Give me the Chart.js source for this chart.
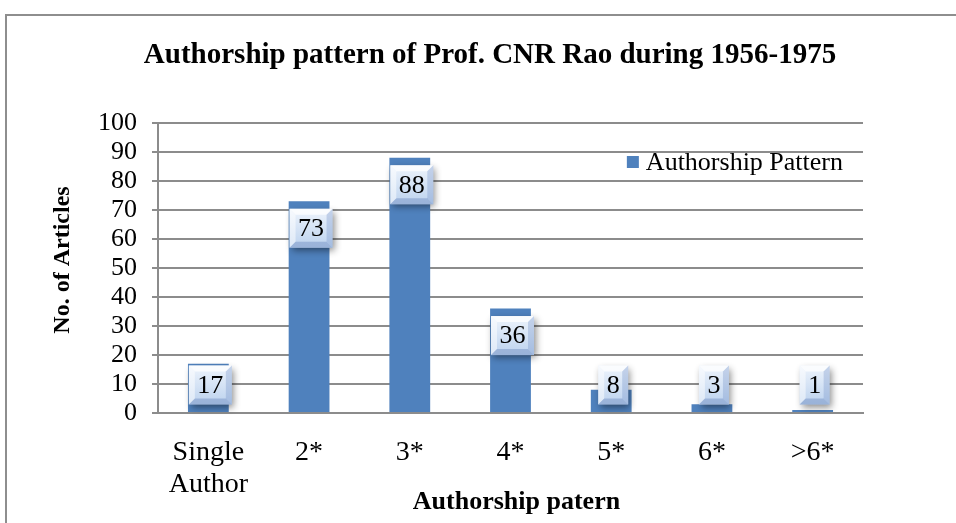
<!DOCTYPE html>
<html>
<head>
<meta charset="utf-8">
<script src="https://cdn.jsdelivr.net/npm/chart.js@4/dist/chart.umd.min.js"></script>
<style>
  body { margin: 0; background: #fff; }
  #chart { display: block; }
</style>
</head>
<body>
<canvas id="chart" width="956" height="523"></canvas>
<script>
// Authorship pattern data
const categories = [["Single", "Author"], "2*", "3*", "4*", "5*", "6*", ">6*"];
const articleCounts = [17, 73, 88, 36, 8, 3, 1];
const seriesLabel = "Authorship Pattern";
const yMin = 0;
const yMax = 100;
const yStep = 10;

const chartTitle = "Authorship pattern of Prof. CNR Rao during 1956-1975";
const xTitle = "Authorship patern";
const yTitle = "No. of Articles";

const serif = "'Liberation Serif', 'Times New Roman', serif";
const gridGray = "#8c8c8c";
const barBlue = "#4f81bd";

// Outer frame of the chart object (runs off the right and bottom edge)
const framePlugin = {
  id: "frame",
  beforeDraw(chart) {
    const ctx = chart.ctx;
    ctx.save();
    ctx.fillStyle = "#fff";
    ctx.fillRect(0, 0, chart.width, chart.height);
    ctx.strokeStyle = "#8e8e8e";
    ctx.lineWidth = 2;
    ctx.strokeRect(6, 15, chart.width + 20, chart.height + 20);
    ctx.restore();
  }
};

// Chart title and axis titles, placed like the original Office chart
const captionPlugin = {
  id: "captions",
  afterDraw(chart) {
    const ctx = chart.ctx;
    const area = chart.chartArea;
    ctx.save();
    ctx.fillStyle = "#000";
    ctx.textAlign = "center";
    ctx.textBaseline = "middle";

    ctx.font = "bold 29px " + serif;
    ctx.fillText(chartTitle, 490, 56);

    ctx.font = "bold 26px " + serif;
    ctx.fillText(xTitle, (area.left + area.right) / 2 + 6, 502);

    ctx.font = "bold 24px " + serif;
    ctx.translate(63, (area.top + area.bottom) / 2 - 8);
    ctx.rotate(-Math.PI / 2);
    ctx.fillText(yTitle, 0, 0);
    ctx.restore();
  }
};

// Bevelled value boxes, placed near the top of each bar and kept above the axis
const valueBoxPlugin = {
  id: "valueBoxes",
  afterDatasetsDraw(chart) {
    const ctx = chart.ctx;
    const meta = chart.getDatasetMeta(0);
    const bottom = chart.chartArea.bottom;
    ctx.save();
    ctx.font = "26px " + serif;
    meta.data.forEach((bar, i) => {
      const text = String(chart.data.datasets[0].data[i]);
      const w = ctx.measureText(text).width + 17;
      const h = 39;
      const cx = bar.x + 2;
      const cy = Math.min(bar.y + 27, bottom - 28);
      const x0 = cx - w / 2, y0 = cy - h / 2;

      // shadow + body
      ctx.save();
      ctx.shadowColor = "rgba(0,0,0,0.45)";
      ctx.shadowBlur = 7;
      ctx.shadowOffsetX = 2;
      ctx.shadowOffsetY = 3;
      const g = ctx.createLinearGradient(0, y0, 0, y0 + h);
      g.addColorStop(0, "#eef4fc");
      g.addColorStop(1, "#bcd2ee");
      ctx.fillStyle = g;
      ctx.fillRect(x0, y0, w, h);
      ctx.restore();

      // bevel faces
      const b = 6;
      const face = (pts, color) => {
        ctx.beginPath();
        ctx.moveTo(pts[0][0], pts[0][1]);
        pts.slice(1).forEach(p => ctx.lineTo(p[0], p[1]));
        ctx.closePath();
        ctx.fillStyle = color;
        ctx.fill();
      };
      face([[x0, y0], [x0 + w, y0], [x0 + w - b, y0 + b], [x0 + b, y0 + b]], "rgba(255,255,255,0.75)");
      face([[x0, y0], [x0 + b, y0 + b], [x0 + b, y0 + h - b], [x0, y0 + h]], "rgba(255,255,255,0.5)");
      face([[x0 + w, y0], [x0 + w, y0 + h], [x0 + w - b, y0 + h - b], [x0 + w - b, y0 + b]], "rgba(120,150,200,0.35)");
      face([[x0, y0 + h], [x0 + b, y0 + h - b], [x0 + w - b, y0 + h - b], [x0 + w, y0 + h]], "rgba(110,140,190,0.45)");

      ctx.fillStyle = "#000";
      ctx.textAlign = "center";
      ctx.textBaseline = "middle";
      ctx.fillText(text, cx, cy + 1);
    });
    ctx.restore();
  }
};

// Legend drawn inside the plot area, top right
const innerLegendPlugin = {
  id: "innerLegend",
  afterDraw(chart) {
    const ctx = chart.ctx;
    const ds = chart.data.datasets[0];
    const area = chart.chartArea;
    ctx.save();
    ctx.font = "26px " + serif;
    const tw = ctx.measureText(ds.label).width;
    const textRight = area.right - 20;
    const textX = textRight - tw;
    const cy = area.top + 39;
    ctx.fillStyle = ds.backgroundColor;
    ctx.fillRect(textX - 19, cy - 6, 12, 12);
    ctx.fillStyle = "#000";
    ctx.textAlign = "left";
    ctx.textBaseline = "middle";
    ctx.fillText(ds.label, textX, cy + 1);
    ctx.restore();
  }
};

new Chart(document.getElementById("chart"), {
  type: "bar",
  data: {
    labels: categories,
    datasets: [{
      label: seriesLabel,
      data: articleCounts,
      backgroundColor: barBlue,
      borderWidth: 0,
      barPercentage: 0.405,
      categoryPercentage: 1.0
    }]
  },
  options: {
    responsive: false,
    animation: false,
    devicePixelRatio: 1,
    layout: { padding: { top: 123, left: 48, right: 93, bottom: 0 } },
    plugins: {
      legend: { display: false },
      tooltip: { enabled: false },
      title: { display: false }
    },
    scales: {
      x: {
        afterFit(scale) { scale.height = 110; },
        grid: { display: false, drawTicks: false },
        border: { display: true, color: gridGray, width: 2 },
        ticks: {
          color: "#000",
          padding: 24,
          maxRotation: 0,
          font: { family: serif, size: 28, lineHeight: 1.13 }
        }
      },
      y: {
        min: yMin,
        max: yMax,
        afterFit(scale) { scale.width = 110; },
        grid: { color: gridGray, lineWidth: 2, drawTicks: true, tickLength: 6 },
        border: { display: true, color: gridGray, width: 2 },
        ticks: {
          stepSize: yStep,
          autoSkip: false,
          color: "#000",
          padding: 15,
          font: { family: serif, size: 26 }
        }
      }
    }
  },
  plugins: [framePlugin, valueBoxPlugin, innerLegendPlugin, captionPlugin]
});
</script>
</body>
</html>
